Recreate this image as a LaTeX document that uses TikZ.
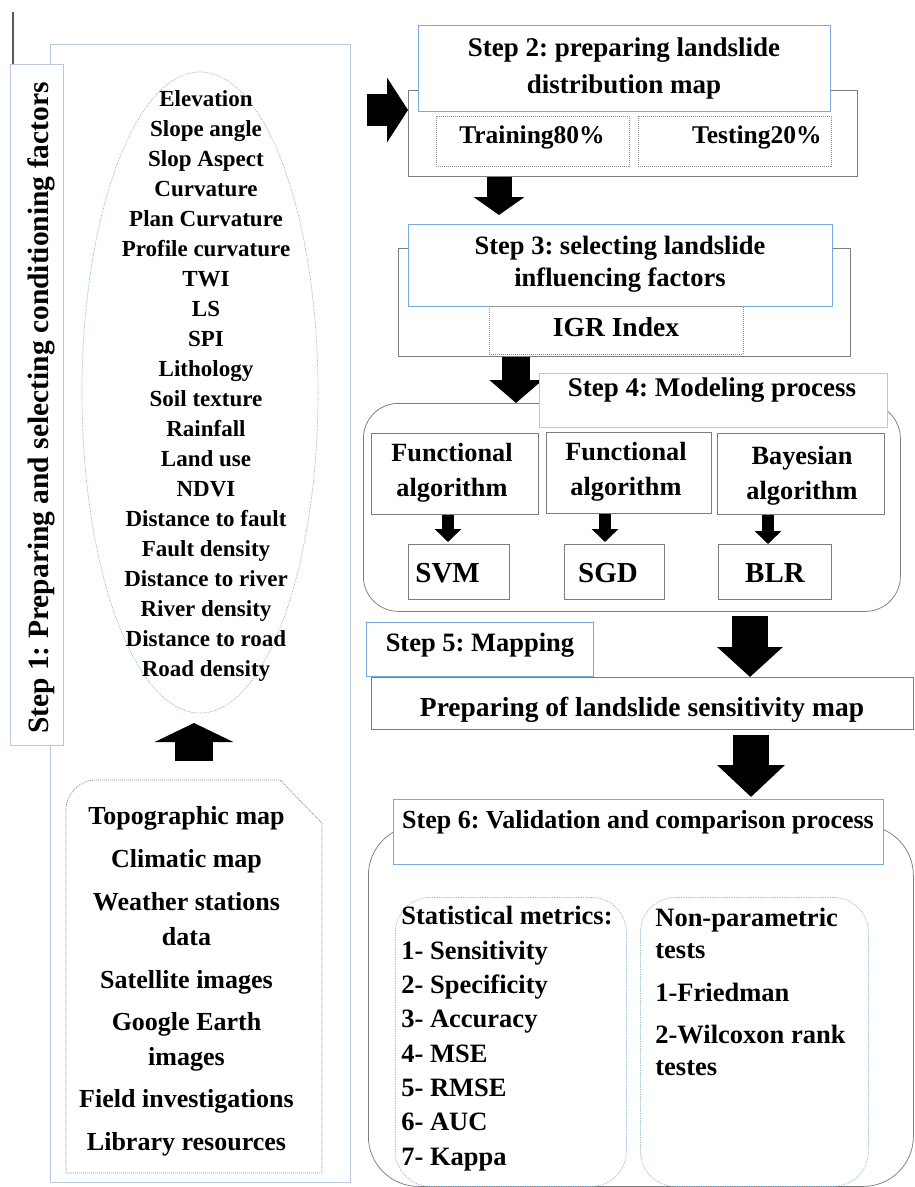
\documentclass[tikz,border=0pt]{standalone}
\usepackage{fontspec}
\setmainfont{Liberation Serif}
\frenchspacing
\usetikzlibrary{arrows.meta,shapes.geometric}

\definecolor{hdrblue}{RGB}{120,170,225}
\definecolor{paleblue}{RGB}{185,200,222}
\definecolor{boxgray}{RGB}{125,125,125}
\definecolor{dotgray}{RGB}{140,140,140}
\definecolor{dashblue}{RGB}{150,185,220}
\definecolor{tickgray}{RGB}{90,90,90}

\tikzset{every picture/.style={line width=0.75pt},
  plainbox/.style={draw=boxgray, fill=white, inner sep=0pt, anchor=north west},
  hdrbox/.style={draw=hdrblue, fill=white, line width=1pt, inner sep=0pt, anchor=north west},
  dotbox/.style={draw=dotgray, dash pattern={on 1pt off 1pt}, inner sep=0pt, anchor=north west},
  bluedash/.style={draw=dashblue, dash pattern={on 1.2pt off 1.2pt}},
  lbl/.style={inner sep=0pt, font=\fontsize{26.5}{34}\selectfont\bfseries},
  blockarrow/.style n args={3}{draw=black, line width=#1, -{Triangle[width=#2,length=#3]}},
}

\begin{document}
\begin{tikzpicture}[x=1pt,y=1pt,yscale=-1,xscale=1]
\useasboundingbox (0,0) rectangle (915,1187);

%Shape: Step 1 frame
\node [plainbox, draw=paleblue, line width=1.2pt, minimum width=300pt, minimum height=1138pt] (s1out) at (50,44) {};
\node [plainbox, draw=paleblue, line width=1.2pt, minimum width=53pt, minimum height=681pt] (s1lab) at (10,64) {};
%Straight Lines
\coordinate (tick) at (13,12);
\draw [tickgray, line width=1.5pt] (tick) -- (tick |- s1lab.north);
% Text Node
\node [lbl, font=\fontsize{29.5}{36}\selectfont\bfseries, rotate=90] (s1txt) at (41,408) {Step 1: Preparing and selecting conditioning factors};

%Shape: Ellipse
\node [ellipse, bluedash, minimum width=236pt, minimum height=641pt, inner sep=0pt] (fellipse) at (200,392.5) {};
% Text Node
\node [lbl, font=\fontsize{23}{30}\selectfont\bfseries, align=center, anchor=base] (facttxt) at (206,676.5) {Elevation\\Slope angle\\Slop Aspect\\Curvature\\Plan Curvature\\Profile curvature\\TWI\\LS\\SPI\\Lithology\\Soil texture\\Rainfall\\Land use\\NDVI\\Distance to fault\\Fault density\\Distance to river\\River density\\Distance to road\\Road density};

%Shape: data sources
\draw [draw=dotgray, dash pattern={on 1pt off 1pt}] (66,1173) -- (66,810) arc [start angle=180, end angle=270, radius=30] -- (280,780) -- (322,823) -- (322,1173) -- cycle ;
% Text Node
\node [lbl, font=\fontsize{26}{34.5}\selectfont\bfseries, align=center, anchor=base] (srctxt) at (186.5,1150) {Topographic map\\[8.5pt]Climatic map\\[8.5pt]Weather stations\\data\\[8.5pt]Satellite images\\[8pt]Google Earth\\images\\[7.5pt]Field investigations\\[8.5pt]Library resources};
%Block Arrow up
\coordinate (u0) at (194,761);
\coordinate (u1) at (194,723);
\draw [blockarrow={38pt}{78pt}{19pt}] (u0) -- (u1);

%Shape: Step 2
\node [plainbox, minimum width=449pt, minimum height=86pt] (s2out) at (408,90) {};
\node [hdrbox, minimum width=412pt, minimum height=86pt] (s2head) at (418,25) {};
\node [dotbox, minimum width=193pt, minimum height=50pt] (train) at (436,116) {};
\node [dotbox, minimum width=193pt, minimum height=50pt] (test) at (638,116) {};
% Text Node
\node [lbl, align=center, anchor=base, font=\fontsize{27}{37}\selectfont\bfseries] (s2txt) at (624,93) {Step 2: preparing landslide\\distribution map};
\node [lbl, anchor=base, font=\fontsize{25.5}{34}\selectfont\bfseries] (traintxt) at (532,143) {Training80\%};
\node [lbl, anchor=base east, font=\fontsize{25.5}{34}\selectfont\bfseries] (testtxt) at (822,143) {Testing20\%};
%Block Arrow right
\coordinate (r0) at (367,110);
\draw [blockarrow={32pt}{64pt}{21pt}] (r0) -- (r0 -| s2out.west);
%Block Arrow down
\coordinate (a1) at (499,215);
\draw [blockarrow={25pt}{50pt}{18pt}] (a1 |- s2out.south) -- (a1);

%Shape: Step 3
\node [plainbox, minimum width=452pt, minimum height=108pt] (s3out) at (398,248) {};
\node [hdrbox, minimum width=424pt, minimum height=82pt] (s3head) at (408,224) {};
\node [dotbox, minimum width=254pt, minimum height=48pt] (igr) at (489,306) {};
% Text Node
\node [lbl, align=center, anchor=base, font=\fontsize{26.5}{31.6}\selectfont\bfseries] (s3txt) at (620,286) {Step 3: selecting landslide\\influencing factors};
\node [lbl, anchor=base, font=\fontsize{27.5}{34}\selectfont\bfseries] (igrtxt) at (616,336) {IGR Index};

%Shape: Step 4
\node [plainbox, rounded corners=35pt, minimum width=537pt, minimum height=208pt] (s4out) at (363,403) {};
%Block Arrow down
\coordinate (a2) at (516,0);
\draw [blockarrow={28pt}{52pt}{23pt}] (a2 |- s3out.south) -- (a2 |- s4out.north);
\node [hdrbox, draw=paleblue, minimum width=348pt, minimum height=54pt] (s4head) at (539,373) {};
\node [plainbox, minimum width=167pt, minimum height=81pt] (fa1) at (371,433) {};
\node [plainbox, minimum width=165pt, minimum height=81pt] (fa2) at (546,432) {};
\node [plainbox, minimum width=167pt, minimum height=81pt] (fa3) at (717,433) {};
\node [plainbox, minimum width=101pt, minimum height=55pt] (svm) at (408,544) {};
\node [plainbox, minimum width=100pt, minimum height=55pt] (sgd) at (564,544) {};
\node [plainbox, minimum width=113pt, minimum height=55pt] (blr) at (718,544) {};
% Text Node
\node [lbl, anchor=base, font=\fontsize{27}{34}\selectfont\bfseries] (s4txt) at (712,396) {Step 4: Modeling process};
\node [lbl, align=center, anchor=base, font=\fontsize{26.3}{35}\selectfont\bfseries] (fa1txt) at (452,496) {Functional\\algorithm};
\node [lbl, align=center, anchor=base, font=\fontsize{26.3}{35}\selectfont\bfseries] (fa2txt) at (626,495) {Functional\\algorithm};
\node [lbl, align=center, anchor=base, font=\fontsize{26.3}{35}\selectfont\bfseries] (fa3txt) at (802,499) {Bayesian\\algorithm};
\node [lbl, anchor=base west, font=\fontsize{29}{34}\selectfont\bfseries] (svmtxt) at (415,582) {SVM};
\node [lbl, anchor=base, font=\fontsize{29}{34}\selectfont\bfseries] (sgdtxt) at (608,582) {SGD};
\node [lbl, anchor=base, font=\fontsize{29}{34}\selectfont\bfseries] (blrtxt) at (775,582) {BLR};
%Block Arrows small
\coordinate (b1) at (448,542);
\coordinate (b2) at (605,542);
\coordinate (b3) at (768,544);
\draw [blockarrow={12pt}{26pt}{13pt}] (b1 |- fa1.south) -- (b1);
\draw [blockarrow={12pt}{26pt}{13pt}] (b2 |- fa2.south) -- (b2);
\draw [blockarrow={12pt}{26pt}{13pt}] (b3 |- fa3.south) -- (b3);

%Shape: Step 5
\node [hdrbox, minimum width=227pt, minimum height=54pt] (s5head) at (366,622) {};
\node [plainbox, minimum width=542pt, minimum height=52pt] (mapbox) at (371,677) {};
% Text Node
\node [lbl, anchor=base] (s5txt) at (480,651) {Step 5: Mapping};
\node [lbl, anchor=base, font=\fontsize{27.5}{34}\selectfont\bfseries] (maptxt) at (642,716) {Preparing of landslide sensitivity map};
%Block Arrow down
\coordinate (a3) at (750,616);
\draw [blockarrow={36pt}{64pt}{30pt}] (a3) -- (a3 |- mapbox.north);

%Shape: Step 6
\node [plainbox, rounded corners=50pt, minimum width=545pt, minimum height=361pt] (s6out) at (368,825) {};
\node [hdrbox, minimum width=490pt, minimum height=65pt] (s6head) at (393,799) {};
\node [anchor=north west, bluedash, rounded corners=35pt, minimum width=231pt, minimum height=289pt, inner sep=0pt] (statbox) at (395,897) {};
\node [anchor=north west, bluedash, rounded corners=35pt, minimum width=228pt, minimum height=289pt, inner sep=0pt] (npbox) at (640,897) {};
% Text Node
\node [lbl, anchor=base, font=\fontsize{26}{34}\selectfont\bfseries] (s6txt) at (638,828) {Step 6: Validation and comparison process};
\node [lbl, align=left, anchor=base west, font=\fontsize{26.5}{34.3}\selectfont\bfseries] (stattxt) at (401,1165) {Statistical metrics:\\1- Sensitivity\\2- Specificity\\3- Accuracy\\4- MSE\\5- RMSE\\6- AUC\\7- Kappa};
\node [lbl, align=left, anchor=base west, font=\fontsize{26.5}{32}\selectfont\bfseries] (nptxt) at (655,1075) {Non-parametric\\tests\\[11pt]1-Friedman\\[10pt]2-Wilcoxon rank\\testes};
%Block Arrow down
\coordinate (a4) at (751,797);
\draw [blockarrow={36pt}{66pt}{32pt}] (a4 |- mapbox.south) ++(0,5) -- (a4);

\end{tikzpicture}
\end{document}
